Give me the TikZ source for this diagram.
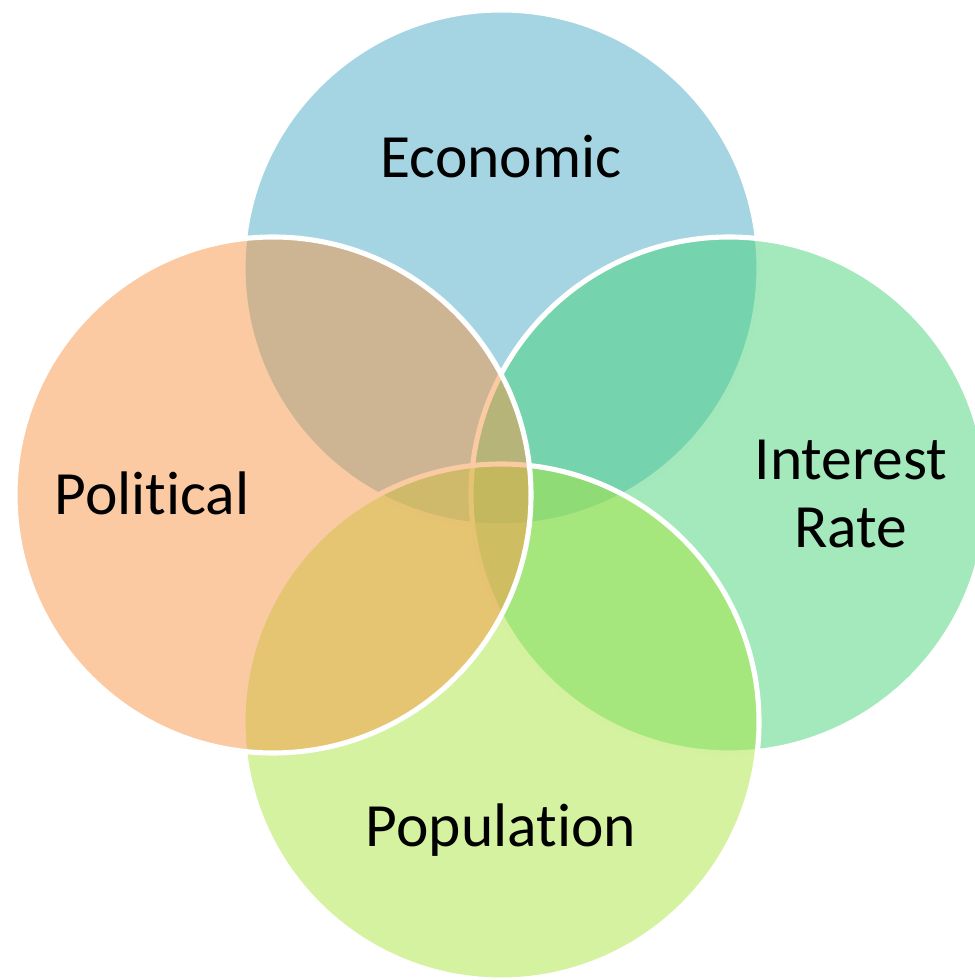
\documentclass[tikz,border=0pt]{standalone}
\usepackage{fontspec}
\setmainfont[Ligatures=NoCommon]{Carlito}
\definecolor{econcol}{HTML}{4BACC6}
\definecolor{polcol}{HTML}{F79646}
\definecolor{ratecol}{HTML}{47D379}
\definecolor{popcol}{HTML}{ABE541}
\tikzset{
  bubble/.style={draw=white, line width=2.9pt, fill opacity=0.5},
  tag/.style={font=\fontsize{35}{38.5}\selectfont, text=black, align=center}
}

\begin{document}
\begin{tikzpicture}[x=0.02cm, y=0.02cm]
		%%%%% START %%%%%
		\useasboundingbox (0, 0) rectangle (974, 980);
		
		\draw[bubble, fill=econcol] (501, 712) circle (258);
		\draw[bubble, fill=ratecol] (729, 485) circle (258);
		\draw[bubble, fill=popcol] (501, 258) circle (258);
		\draw[bubble, fill=polcol] (273, 485) circle (258);
		
		\node[tag] (econ) at (501, 823) {Economic};
		\node[tag] (pol) at (152, 487) {Political};
		\node[tag] (rate) at (851, 486) {Interest\\Rate};
		\node[tag] (pop) at (501, 150) {Population};
		
		%%%%% END %%%%%
	\end{tikzpicture}
\end{document}
